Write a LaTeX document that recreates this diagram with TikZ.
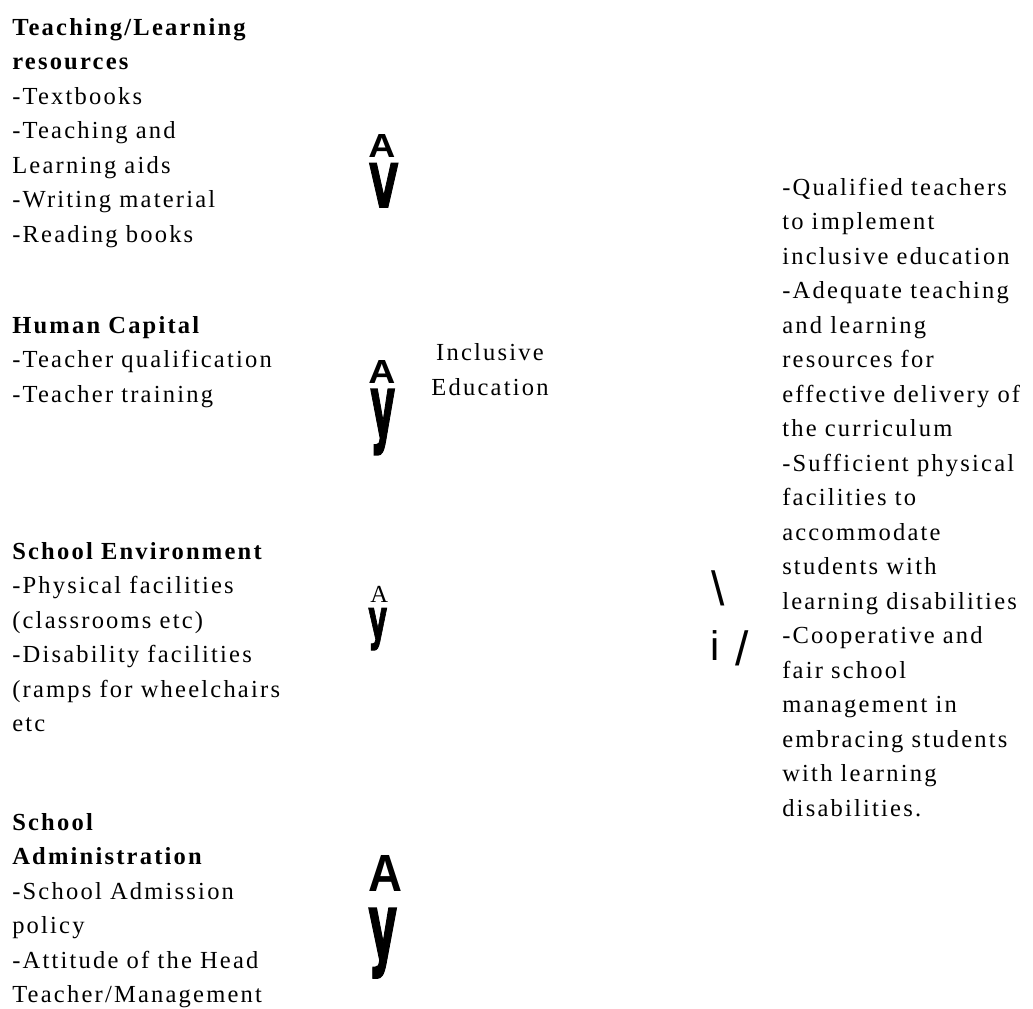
\documentclass[tikz,border=0pt]{standalone}
\usepackage{fontspec}
\usepackage{graphicx}
\newfontfamily\bodyfont{Liberation Serif}[LetterSpace=9]
\newfontfamily\glyphfont{Liberation Sans}
\newfontfamily\heavyfont{DejaVu Sans}[FakeBold=2]
% wide word gaps as in the printed list (regular and bold)
\newcommand\bodytext{\bodyfont\fontsize{18.4pt}{25.875pt}\selectfont
  \fontdimen2\font=0.42em{\bfseries\fontdimen2\font=0.42em}}
\newdimen\pxu \pxu=0.75pt
% squeeze a bold glyph into a box of w x h pixels
\newcommand\squeezed[3]{\resizebox{#1\pxu}{#2\pxu}{\glyphfont\bfseries #3}}
\newcommand\heavy[3]{\resizebox{#1\pxu}{#2\pxu}{\heavyfont\bfseries #3}}

\begin{document}
\begin{tikzpicture}[x=0.75pt,y=-0.75pt]
  \def\lx{12}    % left column
  \def\rx{782}   % right column
  \def\gx{368}   % arrow glyphs

  \tikzstyle{body}=[font=\bodytext]
  \tikzstyle{block}=[body,anchor=base west,inner sep=0pt,text width=240pt,align=left]
  \tikzstyle{glyph}=[anchor=north west,inner sep=0pt]

  \useasboundingbox (0,0) rectangle (1033,1008);

  % FACTORS
  \node[block] (resources) at (\lx,35)
    {\textbf{Teaching/Learning}\\ \textbf{resources}\\ -Textbooks\\ -Teaching and\\
     Learning aids\\ -Writing material\\ -Reading books};
  \node[block] (capital) at (\lx,333)
    {\textbf{Human Capital}\\ -Teacher qualification\\ -Teacher training};
  \node[block] (environment) at (\lx,559)
    {\textbf{School Environment}\\ -Physical facilities\\ (classrooms etc)\\
     -Disability facilities\\ (ramps for wheelchairs\\ etc};
  \node[block] (administration) at (\lx,830)
    {\textbf{School}\\ \textbf{Administration}\\ -School Admission\\ policy\\
     -Attitude of the Head\\ Teacher/Management};

  % ARROWS
  \node[glyph] (upA) at (\gx,134) {\squeezed{27}{23}{A}};
  \node[glyph] (downA) at (\gx+1,163) {\heavy{29}{44}{V}};
  \node[glyph] (upB) at (\gx,360) {\squeezed{27}{23}{A}};
  \node[glyph] (downB) at (\gx+2,389) {\heavy{25}{47}{y}};
  \node[body,anchor=base west,inner sep=0pt] (upC) at (\gx+2,602) {A};
  \node[glyph] (downC) at (\gx,608) {\heavy{19}{30}{y}};
  \node[glyph] (upD) at (\gx,855) {\squeezed{34}{36}{A}};
  \node[glyph] (downD) at (\gx,908) {\heavy{29}{50}{y}};

  % INCLUSIVE EDUCATION
  \node[body,anchor=base,inner sep=0pt,align=center] (inclusive) at (490,395)
    {Inclusive\\ Education};

  \node[glyph,font=\glyphfont\fontsize{36pt}{36pt}\selectfont] (back) at (711,570) {\textbackslash};
  \node[glyph,font=\glyphfont\fontsize{31pt}{31pt}\selectfont] (eye) at (710,630) {i};
  \node[glyph,font=\glyphfont\fontsize{36pt}{36pt}\selectfont] (slash) at (735,630) {/};

  % OUTCOMES
  \node[block] (outcomes) at (\rx,195)
    {-Qualified teachers\\ to implement\\ inclusive education\\ -Adequate teaching\\
     and learning\\ resources for\\ effective delivery of\\ the curriculum\\
     -Sufficient physical\\ facilities to\\ accommodate\\ students with\\
     learning disabilities\\ -Cooperative and\\ fair school\\ management in\\
     embracing students\\ with learning\\ disabilities.};
\end{tikzpicture}
\end{document}
